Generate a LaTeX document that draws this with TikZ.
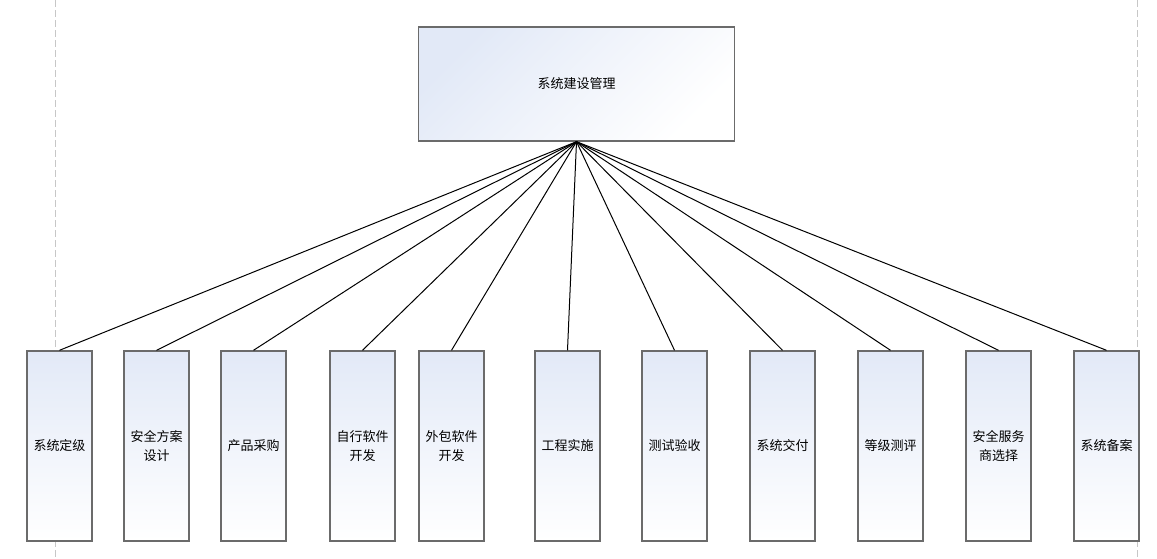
\documentclass[tikz,border=0pt]{standalone}
\usepackage{fontspec}
\setmainfont{Noto Sans CJK SC}
\begin{document}
\begin{tikzpicture}[x=1pt,y=-1pt,
  box/.style={draw=black!58, line width=1.4pt, top color=boxblue, bottom color=white, shading angle=45, inner sep=0pt, font=\fontsize{13}{19}\selectfont, align=center},
  sub/.style={box, shading angle=0, top color=boxblue, bottom color=white, minimum width=65pt, minimum height=190pt},
  link/.style={draw=black, line width=1pt},
  guide/.style={draw=black!22, line width=0.9pt, dash pattern=on 7pt off 3pt}]
\definecolor{boxblue}{RGB}{226,233,247}
\useasboundingbox (0,0) rectangle (1157,558);
\coordinate (g1t) at (55,0); \coordinate (g1b) at (55,558);
\coordinate (g2t) at (1137,0); \coordinate (g2b) at (1137,558);
\draw[guide] (g1t) -- (g1b);
\draw[guide] (g2t) -- (g2b);
\node[box, minimum width=316pt, minimum height=114pt] (top) at (576.5,84) {系统建设管理};
\node[sub] (b1) at (59.5,446) {系统定级};
\node[sub] (b2) at (156.5,446) {安全方案\\设计};
\node[sub] (b3) at (253.5,446) {产品采购};
\node[sub] (b4) at (362.5,446) {自行软件\\开发};
\node[sub] (b5) at (451.5,446) {外包软件\\开发};
\node[sub] (b6) at (567.5,446) {工程实施};
\node[sub] (b7) at (674.5,446) {测试验收};
\node[sub] (b8) at (782.5,446) {系统交付};
\node[sub] (b9) at (890.5,446) {等级测评};
\node[sub] (b10) at (998.5,446) {安全服务\\商选择};
\node[sub] (b11) at (1106.5,446) {系统备案};
\foreach \i in {1,...,11}{\draw[link] (top.south) -- (b\i.north);}
\end{tikzpicture}
\end{document}
